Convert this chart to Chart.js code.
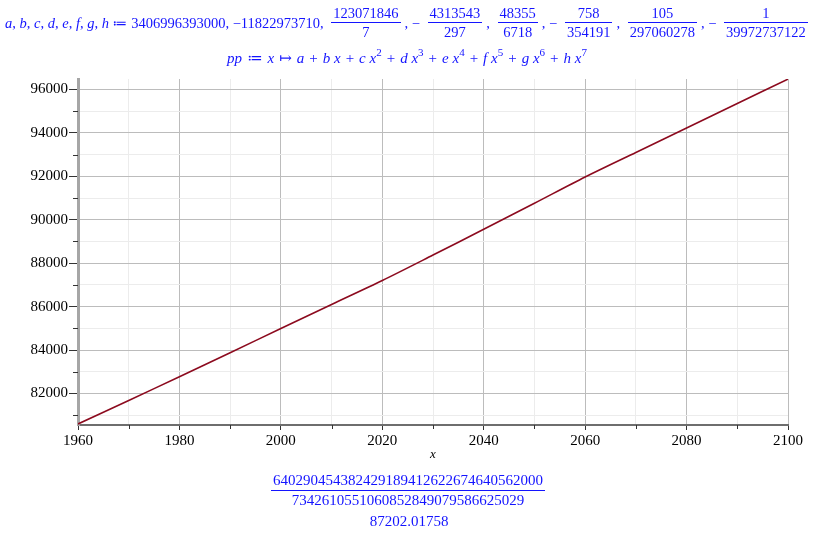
<!DOCTYPE html>
<html>
<head>
<meta charset="utf-8">
<script src="https://cdn.jsdelivr.net/npm/chart.js@4.4.1/dist/chart.umd.min.js"></script>
<style>
  html, body { margin: 0; padding: 0; background: #fff; }
  #wrap { position: relative; width: 823px; height: 535px; overflow: hidden; }
  #plot { position: absolute; left: 0; top: 0; }
  .mt { position: absolute; color: #1414ff; font-family: "Liberation Serif", "DejaVu Serif", serif; white-space: pre; }
  .row { display: flex; align-items: center; font-size: 14.5px; line-height: 18px; }
  .frac { display: inline-flex; flex-direction: column; text-align: center; margin: 0 4px; }
  .frac .n { border-bottom: 1px solid #1414ff; padding: 0 2px; }
  .frac .d { padding: 0 2px; }
  .op { margin: 0 5px; }
  sup { font-size: 11px; line-height: 0; vertical-align: 7px; }
  i { font-style: italic; }
</style>
</head>
<body>
<div id="wrap">
  <canvas id="plot" width="823" height="535"></canvas>

  <div class="mt row" style="left:5px; top:4px;"><i>a</i>, <i>b</i>, <i>c</i>, <i>d</i>, <i>e</i>, <i>f</i>, <i>g</i>, <i>h</i> ≔ 3406996393000, −11822973710, <span class="frac"><span class="n">123071846</span><span class="d">7</span></span>, − <span class="frac"><span class="n">4313543</span><span class="d">297</span></span>, <span class="frac"><span class="n">48355</span><span class="d">6718</span></span>, − <span class="frac"><span class="n">758</span><span class="d">354191</span></span>, <span class="frac"><span class="n">105</span><span class="d">297060278</span></span>, − <span class="frac"><span class="n">1</span><span class="d">39972737122</span></span></div>

  <div class="mt" style="left:227px; top:49px; font-size:15px; line-height:18px;"><i>pp</i><span class="op">≔</span><i>x</i><span class="op">↦</span><i>a</i><span class="op">+</span><i>b x</i><span class="op">+</span><i>c x</i><sup>2</sup><span class="op">+</span><i>d x</i><sup>3</sup><span class="op">+</span><i>e x</i><sup>4</sup><span class="op">+</span><i>f x</i><sup>5</sup><span class="op">+</span><i>g x</i><sup>6</sup><span class="op">+</span><i>h x</i><sup>7</sup></div>

  <div class="mt" style="left:0; width:816px; top:471px; font-size:15px; line-height:19px; text-align:center;"><span class="frac" style="margin:0;"><span class="n">640290454382429189412622674640562000</span><span class="d">7342610551060852849079586625029</span></span></div>
  <div class="mt" style="left:0; width:818px; top:512px; font-size:15px; line-height:19px; text-align:center;">87202.01758</div>
</div>

<script>
// values
const years = [1960, 1970, 1980, 1990, 2000, 2010, 2020, 2030, 2040, 2050, 2060, 2070, 2080, 2090, 2100];
const ppValues = [80596, 81680, 82770, 83880, 84990, 86100, 87202, 88373, 89560, 90760, 91970, 93100, 94220, 95350, 96474];

const xTicks = [1960, 1970, 1980, 1990, 2000, 2010, 2020, 2030, 2040, 2050, 2060, 2070, 2080, 2090, 2100];
const yTicks = [81000, 82000, 83000, 84000, 85000, 86000, 87000, 88000, 89000, 90000, 91000, 92000, 93000, 94000, 95000, 96000];

const MAJOR_GRID = '#bcbcbc';
const MINOR_GRID = '#ececec';
const TICK_FONT = { family: '"Liberation Serif", serif', size: 15 };

const isMajorX = v => v % 20 === 0;
const isMajorY = v => v % 2000 === 0;

// short ticks for the minor values, Maple style
const minorTicks = {
    id: 'minorTicks',
    afterDraw(chart) {
        const { ctx, chartArea, scales } = chart;
        ctx.save();
        ctx.strokeStyle = '#333';
        ctx.lineWidth = 1;
        ctx.beginPath();
        xTicks.filter(v => !isMajorX(v)).forEach(v => {
            const px = Math.round(scales.x.getPixelForValue(v)) + 0.5;
            ctx.moveTo(px, chartArea.bottom);
            ctx.lineTo(px, chartArea.bottom + 4);
        });
        yTicks.filter(v => !isMajorY(v)).forEach(v => {
            const py = Math.round(scales.y.getPixelForValue(v)) + 0.5;
            ctx.moveTo(chartArea.left - 5, py);
            ctx.lineTo(chartArea.left, py);
        });
        ctx.stroke();
        ctx.restore();
    }
};

new Chart(document.getElementById('plot'), {
    type: 'line',
    data: {
        datasets: [{
            data: years.map((y, i) => ({ x: y, y: ppValues[i] })),
            borderColor: '#8c0a1e',
            borderWidth: 1.6,
            pointRadius: 0,
            tension: 0.3,
            fill: false
        }]
    },
    options: {
        responsive: false,
        animation: false,
        layout: { padding: { top: 79, right: 35, left: 0, bottom: 73 } },
        plugins: { legend: { display: false }, tooltip: { enabled: false } },
        scales: {
            x: {
                type: 'linear',
                min: 1960,
                max: 2100,
                afterBuildTicks: s => { s.ticks = xTicks.map(v => ({ value: v })); },
                afterFit: s => { s.height = 37; },
                grid: {
                    color: c => isMajorX(c.tick.value) ? MAJOR_GRID : MINOR_GRID,
                    tickColor: c => isMajorX(c.tick.value) ? '#333' : 'rgba(0,0,0,0)',
                    tickLength: 5
                },
                border: { color: '#6e6e6e', width: 2 },
                ticks: {
                    color: '#000',
                    font: TICK_FONT,
                    padding: 2,
                    maxRotation: 0,
                    autoSkip: false,
                    callback: v => isMajorX(v) ? String(v) : ''
                },
                title: {
                    display: true,
                    text: 'x',
                    color: '#000',
                    font: { family: '"Liberation Serif", serif', size: 13, style: 'italic' },
                    padding: { top: 0, bottom: 0 }
                }
            },
            y: {
                min: 80550,
                max: 96480,
                afterBuildTicks: s => { s.ticks = yTicks.map(v => ({ value: v })); },
                afterFit: s => { s.width = 78; },
                grid: {
                    color: c => isMajorY(c.tick.value) ? MAJOR_GRID : MINOR_GRID,
                    tickColor: c => isMajorY(c.tick.value) ? '#333' : 'rgba(0,0,0,0)',
                    tickLength: 9
                },
                border: { color: '#a6a6a6', width: 3 },
                ticks: {
                    color: '#000',
                    font: TICK_FONT,
                    padding: 1,
                    autoSkip: false,
                    callback: v => isMajorY(v) ? String(v) : ''
                }
            }
        }
    },
    plugins: [minorTicks]
});
</script>
</body>
</html>
